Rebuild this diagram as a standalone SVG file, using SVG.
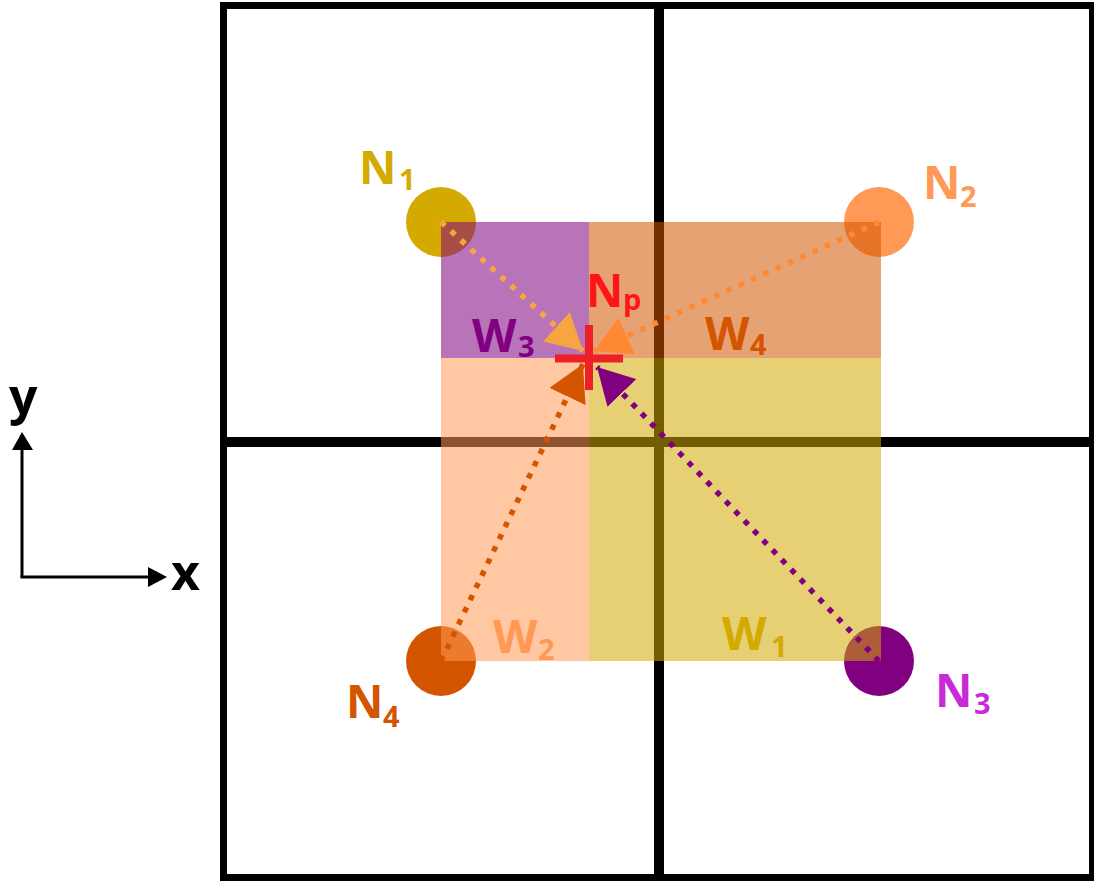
<svg xmlns="http://www.w3.org/2000/svg" width="1094" height="881" viewBox="0 0 1094 881">
<defs>
<style>
.grid{fill:none;stroke:#000;}
.lbl{font-family:"Open Sans","Noto Sans","DejaVu Sans",sans-serif;font-weight:700;font-size:46px;}
.sub{font-size:29px;}
.dot{fill:none;stroke-width:5.5;stroke-dasharray:5.5 8;}
.wr{opacity:0.55;}
</style>
<marker id="mA1" viewBox="0 0 36 40" refX="36" refY="20" markerWidth="36" markerHeight="40" markerUnits="userSpaceOnUse" orient="auto"><path d="M0,0 L36,20 L0,40 z" fill="#F7A541"/></marker>
<marker id="mA2" viewBox="0 0 36 40" refX="36" refY="20" markerWidth="36" markerHeight="40" markerUnits="userSpaceOnUse" orient="auto"><path d="M0,0 L36,20 L0,40 z" fill="#FF8833"/></marker>
<marker id="mA3" viewBox="0 0 36 40" refX="36" refY="20" markerWidth="36" markerHeight="40" markerUnits="userSpaceOnUse" orient="auto"><path d="M0,0 L36,20 L0,40 z" fill="#800080"/></marker>
<marker id="mA4" viewBox="0 0 36 40" refX="36" refY="20" markerWidth="36" markerHeight="40" markerUnits="userSpaceOnUse" orient="auto"><path d="M0,0 L36,20 L0,40 z" fill="#D45500"/></marker>
</defs>
<rect width="1094" height="881" fill="#fff"/>
<g id="grid">
<rect class="grid" x="223.5" y="5.5" width="869" height="872" stroke-width="7"/>
<line class="grid" x1="659" y1="5" x2="659" y2="881" stroke-width="10"/>
<line class="grid" x1="223" y1="442" x2="1094" y2="442" stroke-width="10"/>
</g>
<g id="axes">
<line x1="22" y1="577" x2="22" y2="449" stroke="#000" stroke-width="3"/>
<line x1="20.5" y1="577" x2="149" y2="577" stroke="#000" stroke-width="3"/>
<polygon points="22,432 12,450 33,450" fill="#000"/>
<polygon points="167,577 148,567 148,587" fill="#000"/>
<text class="lbl" x="9" y="414" style="font-size:50px">y</text>
<text class="lbl" x="171" y="590" style="font-size:50px">x</text>
</g>
<g id="N1"><circle cx="441" cy="222" r="35" fill="#D4AA00"/></g>
<g id="N2"><circle cx="879" cy="222" r="35" fill="#FF9955"/></g>
<g id="N3"><circle cx="879" cy="661" r="35" fill="#800080"/></g>
<g id="N4"><circle cx="441" cy="661" r="35" fill="#D45500"/></g>
<g id="weights">
<rect id="W3" class="wr" x="441" y="222" width="148" height="136" fill="#800080"/>
<rect id="W4" class="wr" x="589" y="222" width="292" height="136" fill="#D45500"/>
<rect id="W2" class="wr" x="441" y="358" width="148" height="303" fill="#FF9955"/>
<rect id="W1" class="wr" x="589" y="358" width="292" height="303" fill="#D4AA00"/>
</g>
<g id="connectors">
<line class="dot" x1="441" y1="222" x2="583" y2="351" stroke="#F7A541" marker-end="url(#mA1)"/>
<line class="dot" x1="879" y1="222" x2="594" y2="351" stroke="#FF8833" marker-end="url(#mA2)"/>
<line class="dot" x1="879" y1="661" x2="597" y2="367" stroke="#800080" marker-end="url(#mA3)"/>
<line class="dot" x1="441" y1="661" x2="583" y2="364" stroke="#D45500" marker-end="url(#mA4)"/>
</g>
<g id="Np">
<line x1="555" y1="358.5" x2="623" y2="358.5" stroke="#EE2027" stroke-width="8"/>
<line x1="589" y1="325" x2="589" y2="390" stroke="#EE2027" stroke-width="8"/>
<text class="lbl" x="586" y="307" fill="#FF1515">N<tspan class="sub" x="623" y="310">p</tspan></text>
</g>
<g id="labels">
<text class="lbl" x="359" y="184" fill="#D4AA00">N<tspan class="sub" x="399" y="190">1</tspan></text>
<text class="lbl" x="923" y="199" fill="#FF9955">N<tspan class="sub" x="960" y="207">2</tspan></text>
<text class="lbl" x="935" y="707" fill="#C82AD8">N<tspan class="sub" x="974" y="714">3</tspan></text>
<text class="lbl" x="346" y="718" fill="#D45500">N<tspan class="sub" x="383" y="727">4</tspan></text>
<text class="lbl" x="722" y="650" fill="#D4AA00">W<tspan class="sub" x="771" y="657">1</tspan></text>
<text class="lbl" x="493" y="653" fill="#FF9955">W<tspan class="sub" x="538" y="660">2</tspan></text>
<text class="lbl" x="472" y="352" fill="#800080">W<tspan class="sub" x="518" y="357">3</tspan></text>
<text class="lbl" x="705" y="350" fill="#D45500">W<tspan class="sub" x="750" y="355">4</tspan></text>
</g>
</svg>
